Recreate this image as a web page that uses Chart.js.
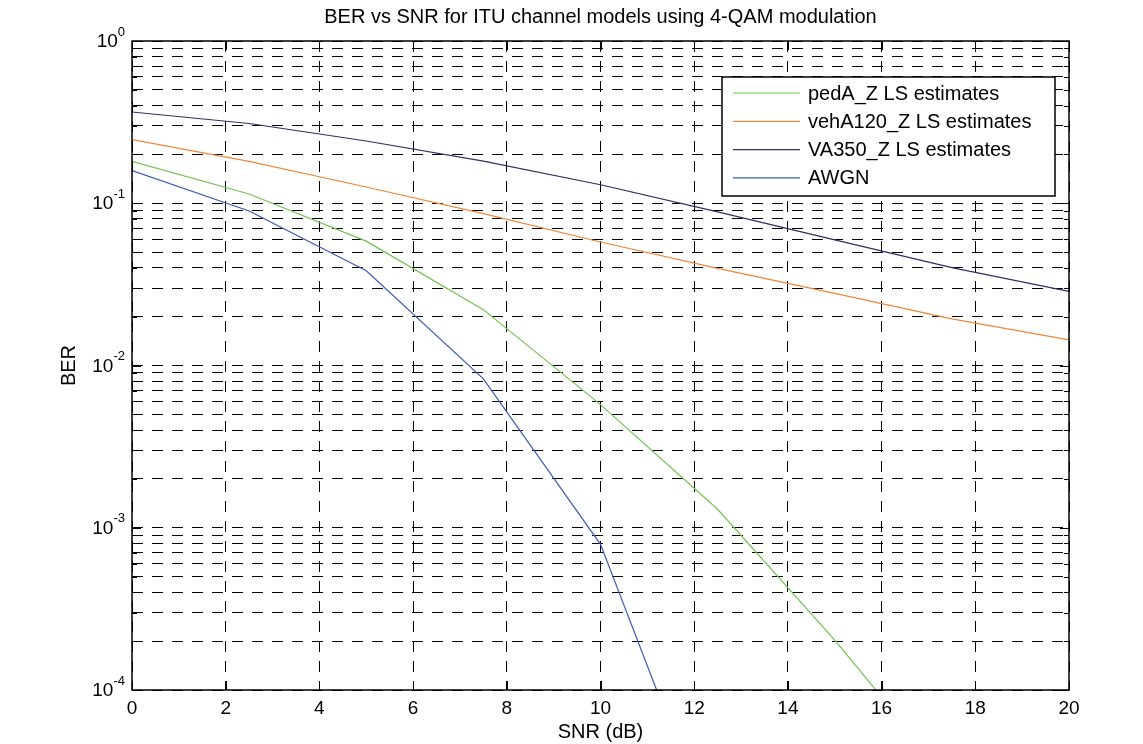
<!DOCTYPE html>
<html><head><meta charset="utf-8">
<script src="https://cdn.jsdelivr.net/npm/chart.js@4.4.1/dist/chart.umd.min.js"></script>
<style>html,body{margin:0;padding:0;background:#fff}</style>
</head><body>
<canvas id="c" width="1143" height="744"></canvas>
<script>
// ---- data ----
const snr = [0, 2.5, 5, 7.5, 10, 12.5, 15, 17.5, 20];
const pedA = [0.181, 0.114, 0.0584, 0.0221, 0.00574, 0.0013, 0.000203, 0.000027, null];
const vehA120 = [0.247, 0.181, 0.126, 0.0863, 0.0577, 0.0397, 0.0278, 0.0194, 0.0144];
const va350 = [0.365, 0.310, 0.242, 0.182, 0.130, 0.0884, 0.0595, 0.0401, 0.0286];
const awgn = [0.159, 0.0896, 0.0384, 0.00828, 0.00079, 0.0000106, null, null, null];
const seriesNames = ['pedA_Z LS estimates', 'vehA120_Z LS estimates', 'VA350_Z LS estimates', 'AWGN'];
const seriesColors = ['#72c450', '#ee873a', '#2d2f6c', '#3b5cb6'];
const xTickValues = [0, 2, 4, 6, 8, 10, 12, 14, 16, 18, 20];
const yTickExponents = [0, -1, -2, -3, -4];
const minorMultipliers = [2, 3, 4, 5, 6, 7, 8, 9];
const titleText = 'BER vs SNR for ITU channel models using 4-QAM modulation';
const xTitle = 'SNR (dB)';
const yTitle = 'BER';

const FONT = "'Liberation Sans', Arial, Helvetica, sans-serif";
const GRID_DASH = [11, 9];
const toPts = arr => snr.map((x, i) => ({x, y: arr[i]})).filter(p => p.y !== null);
const seriesData = [pedA, vehA120, va350, awgn];

const framePlugin = {
  id: 'frame',
  afterDraw(chart) {
    const {ctx, chartArea: a, scales: {x, y}} = chart;
    ctx.save();
    ctx.setLineDash([]);
    ctx.strokeStyle = '#000';
    ctx.lineWidth = 1;
    ctx.beginPath();
    y.ticks.forEach(t => {
      const py = Math.round(y.getPixelForValue(t.value)) + 0.5;
      const L = t.major ? 9 : 5;
      ctx.moveTo(a.left, py); ctx.lineTo(a.left + L, py);
      ctx.moveTo(a.right, py); ctx.lineTo(a.right - L, py);
    });
    x.ticks.forEach(t => {
      const px = Math.round(x.getPixelForValue(t.value)) + 0.5;
      ctx.moveTo(px, a.bottom); ctx.lineTo(px, a.bottom - 9);
      ctx.moveTo(px, a.top); ctx.lineTo(px, a.top + 9);
    });
    ctx.stroke();
    ctx.lineWidth = 1.5;
    ctx.strokeRect(a.left, a.top, a.right - a.left, a.bottom - a.top);

    // y tick labels 10^n
    ctx.fillStyle = '#000';
    ctx.textBaseline = 'middle';
    yTickExponents.forEach(e => {
      const py = y.getPixelForValue(Math.pow(10, e));
      const exp = String(e);
      ctx.font = '13px ' + FONT;
      const ew = ctx.measureText(exp).width;
      const xr = a.left - 7;
      ctx.textAlign = 'right';
      ctx.fillText(exp, xr, py - 9);
      ctx.font = '19px ' + FONT;
      ctx.fillText('10', xr - ew, py + 1);
    });

    // legend
    const bw = 333, bh = 119;
    const bx = a.right - 14 - bw, by = a.top + 36;
    ctx.fillStyle = '#fff';
    ctx.fillRect(bx, by, bw, bh);
    ctx.lineWidth = 1.5;
    ctx.strokeStyle = '#000';
    ctx.strokeRect(bx, by, bw, bh);
    ctx.font = '20px ' + FONT;
    ctx.textAlign = 'left';
    chart.data.datasets.forEach((ds, i) => {
      const cy = by + 16 + i * 28.3;
      ctx.strokeStyle = ds.borderColor;
      ctx.lineWidth = 1.2;
      ctx.beginPath();
      ctx.moveTo(bx + 11, cy); ctx.lineTo(bx + 78, cy);
      ctx.stroke();
      ctx.fillStyle = '#000';
      ctx.fillText(ds.label, bx + 86, cy + 1);
    });
    ctx.restore();
  }
};

new Chart(document.getElementById('c'), {
  type: 'line',
  data: {
    datasets: seriesNames.map((name, i) => ({
      label: name,
      data: toPts(seriesData[i]),
      borderColor: seriesColors[i],
      backgroundColor: seriesColors[i],
      borderWidth: 1.2,
      pointRadius: 0,
      tension: 0,
      fill: false
    }))
  },
  options: {
    responsive: false,
    animation: false,
    devicePixelRatio: 1,
    layout: {padding: {left: 0, right: 74, top: 0, bottom: 0}},
    plugins: {
      legend: {display: false},
      tooltip: {enabled: false},
      title: {
        display: true, text: titleText, fullSize: false, color: '#000',
        font: {family: FONT, size: 20, weight: 'normal'},
        padding: {top: 5, bottom: 12}
      }
    },
    scales: {
      x: {
        type: 'linear', min: 0, max: 20,
        afterBuildTicks: s => { s.ticks = xTickValues.map(v => ({value: v})); },
        afterFit: s => { s.height = 54; },
        ticks: {color: '#000', font: {family: FONT, size: 19}, padding: 7},
        grid: {color: '#000', lineWidth: 1, drawTicks: false},
        border: {display: false, dash: GRID_DASH},
        title: {display: true, text: xTitle, color: '#000', font: {family: FONT, size: 20}, padding: {top: 0, bottom: 0}}
      },
      y: {
        type: 'logarithmic', min: 1e-4, max: 1,
        afterBuildTicks: s => {
          const t = [];
          yTickExponents.slice().reverse().forEach(e => {
            t.push({value: Math.pow(10, e), major: true});
            if (e < 0) minorMultipliers.forEach(m => t.push({value: m * Math.pow(10, e), major: false}));
          });
          s.ticks = t;
        },
        afterFit: s => { s.width = 132; },
        ticks: {display: false},
        grid: {color: '#000', lineWidth: 1, drawTicks: false},
        border: {display: false, dash: GRID_DASH},
        title: {display: true, text: yTitle, color: '#000', font: {family: FONT, size: 20}, padding: {top: 57, bottom: 0}}
      }
    }
  },
  plugins: [framePlugin]
});
</script>
</body></html>
